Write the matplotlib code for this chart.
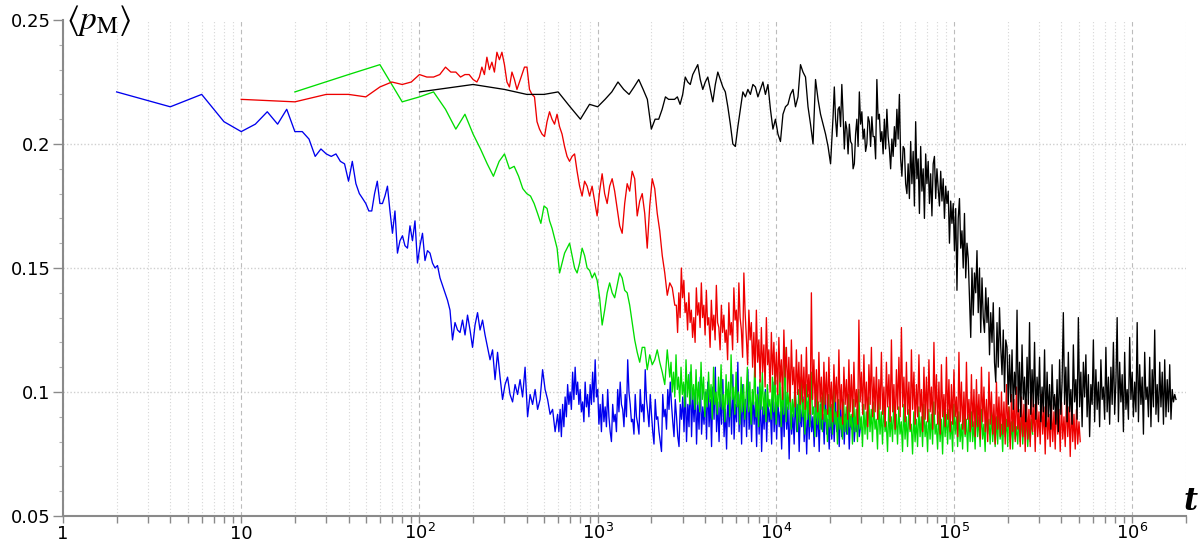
import numpy as np
import matplotlib.pyplot as plt

# <p_M> traces, values in units of 1e-3.
# Early samples sit on the raw time grid; later ones on log-spaced grids
# (a coarse "mid" stretch, then a fine "dense" stretch for the noisy plateau).
blue_head_t = np.arange(2, 62, 2)
blue_head = [221, 215, 220, 209, 205, 208, 213, 208, 214, 205,
             205, 202, 195, 198, 196, 195, 196, 193, 192, 185,
             193, 184, 180, 178, 176, 173, 173, 180, 185, 176]
blue_mid_span = (62, 577)
blue_mid = [176, 179, 183, 173, 164, 173, 156, 161, 163, 159,
            158, 167, 161, 169, 152, 159, 164, 153, 157, 156,
            152, 150, 151, 146, 143, 140, 137, 133, 121, 128,
            125, 124, 129, 123, 131, 125, 118, 127, 132, 125,
            129, 123, 118, 113, 117, 105, 116, 106, 97, 103,
            106, 99, 96, 103, 99, 105, 98, 110, 90, 99,
            95, 101, 93, 97, 109, 101, 97, 91, 93, 84]
blue_dense_span = (596, 2.983e4)
blue_dense = [91, 84, 93, 82, 95, 86, 98, 90, 103, 95, 100, 93, 108, 97, 110, 99, 104, 95, 101, 92,
              96, 88, 104, 94, 99, 90, 103, 95, 108, 96, 113, 98, 101, 87, 95, 84, 99, 88, 94, 86,
              101, 90, 84, 80, 95, 88, 91, 84, 101, 92, 104, 95, 93, 86, 99, 90, 113, 100, 95, 88,
              89, 83, 99, 90, 87, 83, 101, 92, 95, 88, 109, 97, 92, 86, 99, 91, 84, 79, 97, 89,
              90, 84, 80, 76, 99, 90, 93, 85, 101, 93, 104, 95, 88, 82, 97, 90, 82, 78, 95, 89,
              98, 84, 103, 80, 95, 86, 108, 82, 99, 88, 101, 79, 96, 85, 106, 83, 94, 87, 100, 81,
              104, 86, 97, 78, 102, 89, 110, 84, 96, 80, 99, 87, 105, 82, 93, 77, 101, 86, 98, 83,
              107, 81, 95, 88, 112, 84, 99, 79, 103, 86, 97, 82, 109, 85, 94, 80, 100, 87, 96, 78,
              102, 83, 98, 76, 94, 85, 101, 80, 97, 88, 93, 79, 104, 84, 96, 81, 99, 86, 92, 77,
              97, 82, 100, 85, 94, 73, 96, 83, 91, 79, 99, 84, 95, 76, 93, 86, 98, 80, 92, 75,
              96, 81, 94, 84, 90, 78, 97, 82, 93, 76, 95, 85, 91, 79, 98, 83, 89, 77, 94, 81,
              92, 80, 96, 84, 90, 78, 95, 82, 97, 79, 91, 83, 94, 77, 90, 85, 93, 80, 88, 84,
              91, 82, 86]

green_head_t = np.arange(20, 520, 20)
green_head = [221, 228, 232, 217, 219, 221, 214, 206, 212, 204,
              198, 192, 187, 193, 196, 190, 191, 187, 182, 180,
              179, 176, 172, 168, 175]
green_mid_span = (520, 2538)
green_mid = [174, 169, 166, 162, 158, 148, 152, 156, 158, 160,
             155, 150, 148, 152, 158, 155, 150, 149, 146, 148,
             145, 138, 127, 133, 140, 144, 140, 138, 143, 148,
             146, 141, 140, 135, 128, 121, 116, 112, 118, 118,
             109, 115, 111, 113, 117, 112, 108, 103, 117, 106]
green_dense_span = (2579, 2.76e5)
green_dense = [112, 100, 108, 98, 115, 101, 106, 96, 110, 99, 104, 94, 113, 98, 107, 95, 111, 97, 103, 93,
               109, 95, 104, 92, 112, 97, 106, 90, 101, 94, 108, 96, 103, 89, 110, 95, 100, 91, 106, 94,
               111, 93, 99, 88, 107, 95, 104, 90, 115, 97, 102, 91, 108, 94, 100, 87, 106, 92, 103, 89,
               98, 110, 92, 104, 87, 101, 95, 113, 90, 99, 86, 105, 93, 108, 91, 100, 88, 103, 94, 97,
               89, 106, 92, 111, 87, 99, 94, 108, 86, 102, 91, 118, 88, 100, 93, 105, 85, 97, 90, 103,
               95, 84, 101, 88, 106, 90, 97, 83, 103, 89, 99, 86, 108, 91, 94, 82, 100, 87, 96, 85,
               98, 84, 102, 88, 93, 80, 99, 86, 95, 83, 104, 87, 92, 79, 97, 85, 90, 81, 96, 84,
               94, 83, 99, 86, 91, 79, 97, 84, 93, 80, 101, 85, 90, 78, 95, 83, 92, 81, 98, 84,
               93, 80, 96, 85, 89, 77, 97, 83, 92, 79, 95, 84, 88, 76, 94, 82, 90, 80, 96, 83,
               91, 79, 94, 83, 88, 76, 95, 81, 90, 78, 93, 84, 87, 75, 92, 80, 89, 78, 94, 82,
               90, 78, 95, 82, 88, 76, 93, 81, 91, 79, 96, 83, 87, 77, 92, 80, 89, 75, 94, 82,
               91, 79, 93, 81, 88, 76, 95, 83, 90, 78, 92, 80, 87, 77, 94, 82, 89, 76, 91, 80,
               92, 80, 88, 77, 95, 82, 90, 78, 93, 81, 87, 76, 94, 83, 89, 79, 92, 80, 88, 78,
               90, 79, 93, 81, 87, 76, 91, 82, 89, 78, 94, 80, 88, 77, 92, 81, 86, 79, 90, 80,
               91, 79, 88, 82, 90, 78, 87, 80, 89, 83]

red_head_t = np.arange(10, 210, 10)
red_head = [218, 217, 220, 220, 219, 223, 225, 224, 225, 228,
            227, 227, 228, 231, 229, 229, 227, 228, 228, 226]
red_mid_span = (210, 2708)
red_mid = [225, 227, 231, 228, 235, 230, 233, 229, 237, 234,
           237, 232, 225, 223, 229, 226, 222, 225, 228, 231,
           231, 222, 220, 219, 209, 206, 204, 203, 209, 213,
           210, 208, 212, 207, 204, 199, 195, 193, 195, 196,
           189, 183, 179, 185, 183, 179, 183, 177, 171, 181,
           188, 180, 176, 183, 186, 181, 174, 167, 164, 176,
           184, 181, 189, 186, 171, 177, 180, 172, 158, 175,
           186, 182, 172, 165, 155, 148, 139, 144, 142, 135]
red_dense_span = (2763, 5.1e5)
red_dense = [135, 124, 140, 130, 150, 138, 145, 132, 136, 125, 140, 128, 133, 122, 130, 120, 142, 131, 136, 126,
             144, 130, 135, 123, 141, 127, 130, 118, 137, 125, 131, 121, 143, 128, 126, 117, 135, 124, 131, 120,
             125, 113, 136, 123, 128, 117, 142, 129, 133, 120, 144, 130, 125, 114, 148, 132, 122, 111, 133, 121,
             128, 110, 124, 106, 133, 112, 121, 104, 126, 108, 119, 102, 130, 111, 117, 100, 124, 107, 120, 103,
             116, 99, 122, 104, 113, 97, 125, 106, 118, 100, 114, 96, 121, 103, 110, 94, 117, 99, 112, 95,
             115, 96, 110, 93, 118, 98, 107, 91, 140, 97, 113, 94, 109, 92, 116, 96, 106, 89, 112, 95,
             108, 91, 114, 94, 104, 88, 111, 96, 106, 90, 117, 93, 103, 87, 110, 95, 105, 89, 113, 92,
             107, 90, 112, 94, 101, 87, 129, 96, 108, 91, 115, 93, 104, 86, 111, 95, 118, 90, 106, 92,
             110, 89, 105, 93, 116, 91, 102, 86, 112, 94, 107, 88, 121, 92, 103, 85, 109, 93, 114, 90,
             126, 94, 106, 88, 112, 91, 104, 85, 117, 93, 108, 87, 103, 90, 115, 92, 101, 84, 110, 89,
             106, 88, 113, 92, 102, 85, 120, 91, 107, 87, 104, 83, 111, 90, 99, 86, 114, 89, 105, 84,
             103, 87, 109, 90, 98, 82, 116, 88, 104, 85, 100, 83, 112, 89, 97, 84, 107, 86, 101, 82,
             105, 86, 99, 81, 110, 88, 102, 84, 97, 80, 108, 87, 100, 83, 95, 79, 104, 85, 98, 82,
             100, 83, 96, 79, 103, 86, 94, 77, 99, 84, 97, 80, 102, 85, 93, 78, 98, 82, 95, 76,
             97, 81, 93, 78, 100, 84, 95, 76, 98, 82, 92, 79, 99, 83, 94, 75, 96, 81, 91, 78,
             95, 80, 92, 77, 98, 83, 93, 76, 96, 81, 90, 78, 97, 82, 94, 74, 95, 80, 91, 77,
             93, 79, 88, 80]

black_head_t = np.arange(100, 3100, 100)
black_head = [221, 224, 222, 220, 220, 221, 215, 210, 216, 215,
              218, 221, 225, 222, 220, 223, 226, 222, 218, 206,
              210, 210, 214, 219, 218, 218, 218, 219, 216, 220]
black_mid_span = (3100, 2.093e4)
black_mid = [227, 225, 224, 228, 230, 232, 226, 222, 225, 227,
             222, 217, 224, 229, 226, 223, 221, 215, 208, 200,
             199, 207, 214, 221, 219, 222, 220, 224, 223, 219,
             222, 225, 220, 224, 214, 206, 210, 204, 201, 212,
             215, 216, 220, 222, 215, 219, 232, 229, 227, 215,
             208, 200, 226, 218, 212, 208, 204, 199, 192, 211]
black_dense_span = (2.127e4, 1.757e6)
black_dense = [223, 210, 203, 214, 215, 207, 224, 212, 198, 209, 206, 196, 208, 201, 200, 190, 192, 204, 210, 199,
               221, 208, 213, 202, 206, 197, 200, 211, 209, 199, 211, 203, 203, 194, 226, 210, 212, 201, 205, 196,
               210, 198, 214, 203, 198, 190, 202, 195, 207, 199, 214, 202, 220, 194, 187, 199, 198, 184, 180, 192,
               178, 201, 184, 197, 175, 209, 186, 194, 172, 199, 181, 190, 170, 196, 184, 193, 176, 188, 171, 192,
               195, 178, 190, 182, 175, 189, 177, 186, 170, 183, 176, 181, 160, 177, 168, 176, 157, 174, 141, 170,
               178, 158, 165, 150, 172, 146, 160, 154, 138, 122, 150, 131, 148, 140, 157, 132, 150, 124, 146, 130,
               124, 142, 128, 138, 115, 132, 120, 136, 112, 104, 128, 110, 134, 118, 107, 125, 100, 121, 118, 95,
               115, 96, 117, 93, 108, 99, 133, 92, 112, 90, 119, 97, 106, 88, 114, 95, 128, 91, 109, 94,
               120, 89, 106, 95, 114, 88, 102, 92, 117, 86, 108, 90, 103, 85, 111, 93, 99, 87, 105, 84,
               113, 91, 104, 132, 95, 110, 88, 116, 92, 101, 87, 119, 96, 105, 89, 130, 94, 108, 86, 112,
               98, 115, 90, 107, 82, 103, 95, 121, 88, 109, 93, 104, 86, 113, 97, 102, 89, 118, 92, 106,
               87, 110, 95, 120, 91, 104, 130, 88, 112, 96, 107, 84, 116, 93, 101, 89, 122, 97, 108, 90,
               104, 92, 128, 88, 111, 95, 106, 83, 116, 97, 102, 90, 114, 86, 109, 94, 125, 91, 103, 88,
               112, 94, 108, 87, 113, 90, 105, 92, 111, 89, 101, 96, 99, 97]

x_ticks = [1, 10, 1e2, 1e3, 1e4, 1e5, 1e6]
x_labels = ['1', '10', r'$10^{2}$', r'$10^{3}$', r'$10^{4}$', r'$10^{5}$', r'$10^{6}$']
y_ticks = [0.05, 0.1, 0.15, 0.2, 0.25]
y_labels = ['0.05', '0.1', '0.15', '0.2', '0.25']
y_grid = [0.1, 0.15, 0.2]


def build(head_t, head, parts):
    ts = [head_t]
    ps = list(head)
    for span, vals in parts:
        ts.append(np.geomspace(span[0], span[1], len(vals)))
        ps += vals
    return np.concatenate(ts), np.array(ps) / 1000.0


fig = plt.figure(figsize=(11.98, 5.44), dpi=100)
ax = fig.add_axes([63 / 1198, 28 / 544, 1123 / 1198, 496 / 544])
ax.set_xscale('log')
ax.set_xlim(1, 2e6)
ax.set_ylim(0.05, 0.25)

# grid: dotted minor verticals, dashed decades, dotted horizontals
ax.grid(True, which='minor', axis='x', ls=(0, (1, 2)), color='#d6d6d6', lw=0.8)
ax.grid(True, which='major', axis='x', ls=(0, (4, 3)), color='#bcbcbc', lw=0.8)
for yv in y_grid:
    ax.axhline(yv, ls=(0, (1, 1.5)), color='#cfcfcf', lw=1.0, zorder=0)
ax.set_axisbelow(True)

runs = [
    (blue_head_t, blue_head, [(blue_mid_span, blue_mid), (blue_dense_span, blue_dense)], '#0000ee'),
    (green_head_t, green_head, [(green_mid_span, green_mid), (green_dense_span, green_dense)], '#00dd00'),
    (red_head_t, red_head, [(red_mid_span, red_mid), (red_dense_span, red_dense)], '#ee0000'),
    (black_head_t, black_head, [(black_mid_span, black_mid), (black_dense_span, black_dense)], '#000000'),
]
for head_t, head, parts, col in runs:
    t, p = build(head_t, head, parts)
    ax.plot(t, p, color=col, lw=0.95)

# axes frame
for side in ['top', 'right']:
    ax.spines[side].set_visible(False)
for side in ['left', 'bottom']:
    ax.spines[side].set_color('#8a8a8a')
    ax.spines[side].set_linewidth(1.5)

ax.set_xticks(x_ticks, x_labels)
ax.set_xticks([m * 10 ** k for k in range(7) for m in range(2, 10) if m * 10 ** k <= 2e6], minor=True)
ax.xaxis.set_minor_formatter(plt.NullFormatter())
ax.set_yticks(y_ticks, y_labels)
ax.set_yticks(np.arange(0.06, 0.25, 0.01), minor=True)
ax.tick_params(axis='x', which='both', direction='out', length=5, width=1, color='#8a8a8a',
               labelsize=13)
ax.tick_params(axis='x', which='major', pad=11.8)
ax.tick_params(axis='y', which='major', direction='out', length=7, width=1, color='#8a8a8a',
               labelsize=13, pad=2)
ax.tick_params(axis='y', which='minor', direction='out', length=3, width=0.8, color='#b0b0b0')
# sit all x labels on a common baseline so the powers of ten line up with "1" and "10"
for tk in ax.xaxis.get_major_ticks():
    tk.label1.set_verticalalignment('baseline')

fig.text(66 / 1198, 1 - 3 / 544, r'$\langle p_{\mathrm{M}}\rangle$', fontsize=24,
         math_fontfamily='stix', ha='left', va='top')
fig.text(1191 / 1198, 1 - 502 / 544, 't', fontsize=22, family='DejaVu Serif',
         style='italic', weight='bold', ha='center', va='center')

fig.savefig('out.png', dpi=100)
